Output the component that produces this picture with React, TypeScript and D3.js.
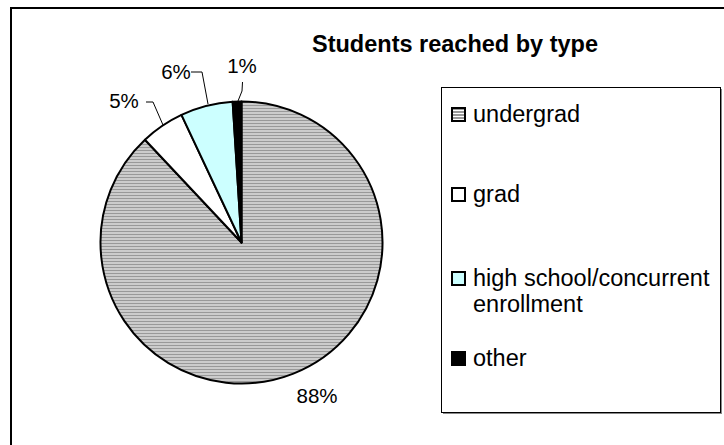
import React from "react";
import * as d3 from "d3";

const categories = ["undergrad", "grad", "high school/concurrent enrollment", "other"];
const values = [88, 5, 6, 1];
const percentLabels = ["88%", "5%", "6%", "1%"];
const legendLines = [["undergrad"], ["grad"], ["high school/concurrent", "enrollment"], ["other"]];
const fills = ["url(#hatch)", "#ffffff", "#ccffff", "#000000"];

const W = 724;
const H = 445;
const cx = 241.5;
const cy = 242.5;
const R = 141;
const FONT = "Arial, 'Liberation Sans', Helvetica, sans-serif";

export default function App() {
  const pie = d3.pie<number>().sort(null).value((d) => d)(values);
  const arc = d3.arc<d3.PieArcDatum<number>>().innerRadius(0).outerRadius(R);

  // label anchor points (baseline) placed like the original
  const labelPos: [number, number][] = [
    [317, 403],
    [124, 108],
    [176, 79],
    [242, 73],
  ];
  const leaders: string[] = [
    "",
    "M146,102 L153,102 L163,125",
    "M191,72 L202,72 L208,104",
    "M242.5,82 L242,91 L238,101",
  ];

  const legendBase = [122, 202, 286, 366];

  return (
    <svg
      width={W}
      height={H}
      style={{ position: "absolute", left: 0, top: 0, background: "#fff" }}
    >
      <defs>
        <pattern id="hatch" patternUnits="userSpaceOnUse" width={4} height={3}>
          <rect x={0} y={0} width={4} height={3} fill="#ffffff" />
          <rect x={0} y={0} width={4} height={2} fill="#999999" />
        </pattern>
      </defs>
      <rect x={0} y={0} width={W} height={H} fill="#fff" />
      <rect x={11} y={8} width={W + 10} height={H + 10} fill="none" stroke="#000" strokeWidth={2} />

      <text
        x={312}
        y={52}
        fontFamily={FONT}
        fontWeight="bold"
        fontSize={23.5}
      >
        Students reached by type
      </text>

      <g transform={`translate(${cx},${cy})`}>
        {pie.map((p, i) => (
          <path
            key={categories[i]}
            d={arc(p) || ""}
            fill={fills[i]}
            stroke="#000"
            strokeWidth={2}
            strokeLinejoin="round"
          />
        ))}
      </g>

      {leaders.map((d, i) =>
        d ? <path key={i} d={d} fill="none" stroke="#000" strokeWidth={1} /> : null
      )}
      {percentLabels.map((t, i) => (
        <text
          key={t}
          x={labelPos[i][0]}
          y={labelPos[i][1]}
          textAnchor="middle"
          fontFamily={FONT}
          fontSize={20.5}
        >
          {t}
        </text>
      ))}

      <rect x={443} y={89} width={279} height={325} fill="#888" />
      <rect x={441.5} y={87.5} width={279} height={325} fill="#fff" stroke="#000" strokeWidth={1} />

      {legendLines.map((lines, i) => (
        <g key={categories[i]}>
          <rect
            x={452}
            y={legendBase[i] - 14}
            width={13}
            height={13}
            fill={fills[i]}
            stroke="#000"
            strokeWidth={2}
          />
          {lines.map((ln, j) => (
            <text
              key={ln}
              x={473}
              y={legendBase[i] + j * 26}
              fontFamily={FONT}
              fontSize={23.5}
            >
              {ln}
            </text>
          ))}
        </g>
      ))}
    </svg>
  );
}
